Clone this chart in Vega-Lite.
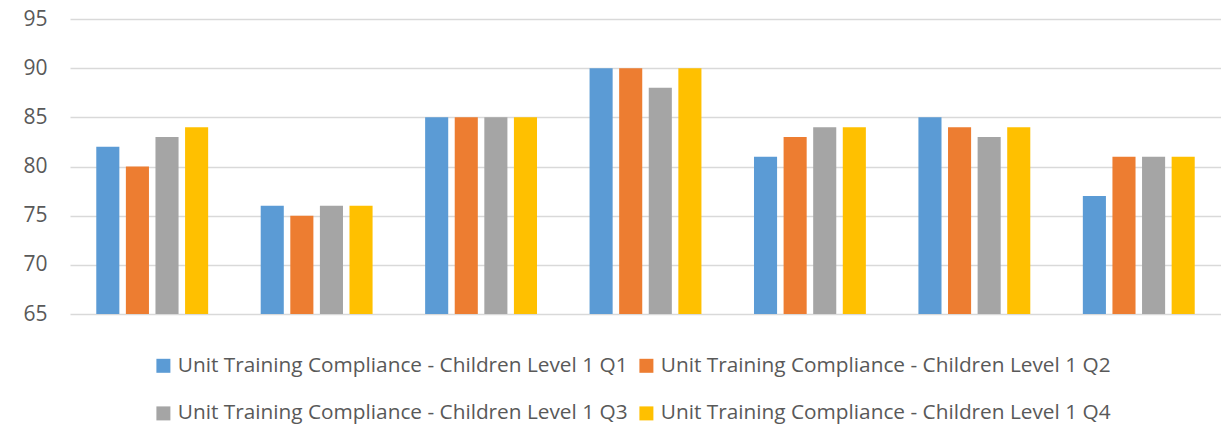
{
  "$schema": "https://vega.github.io/schema/vega-lite/v6.json",
  "width": 1151,
  "height": 295,
  "autosize": {"type": "none"},
  "padding": {"left": 70, "top": 19, "right": 0, "bottom": 127},
  "background": "white",
  "config": {"view": {"stroke": null}, "font": "Open Sans"},
  "data": {"values": [
    {"g": "1", "s": "Unit Training Compliance - Children Level 1 Q1", "v": 82},
    {"g": "1", "s": "Unit Training Compliance - Children Level 1 Q2", "v": 80},
    {"g": "1", "s": "Unit Training Compliance - Children Level 1 Q3", "v": 83},
    {"g": "1", "s": "Unit Training Compliance - Children Level 1 Q4", "v": 84},
    {"g": "2", "s": "Unit Training Compliance - Children Level 1 Q1", "v": 76},
    {"g": "2", "s": "Unit Training Compliance - Children Level 1 Q2", "v": 75},
    {"g": "2", "s": "Unit Training Compliance - Children Level 1 Q3", "v": 76},
    {"g": "2", "s": "Unit Training Compliance - Children Level 1 Q4", "v": 76},
    {"g": "3", "s": "Unit Training Compliance - Children Level 1 Q1", "v": 85},
    {"g": "3", "s": "Unit Training Compliance - Children Level 1 Q2", "v": 85},
    {"g": "3", "s": "Unit Training Compliance - Children Level 1 Q3", "v": 85},
    {"g": "3", "s": "Unit Training Compliance - Children Level 1 Q4", "v": 85},
    {"g": "4", "s": "Unit Training Compliance - Children Level 1 Q1", "v": 90},
    {"g": "4", "s": "Unit Training Compliance - Children Level 1 Q2", "v": 90},
    {"g": "4", "s": "Unit Training Compliance - Children Level 1 Q3", "v": 88},
    {"g": "4", "s": "Unit Training Compliance - Children Level 1 Q4", "v": 90},
    {"g": "5", "s": "Unit Training Compliance - Children Level 1 Q1", "v": 81},
    {"g": "5", "s": "Unit Training Compliance - Children Level 1 Q2", "v": 83},
    {"g": "5", "s": "Unit Training Compliance - Children Level 1 Q3", "v": 84},
    {"g": "5", "s": "Unit Training Compliance - Children Level 1 Q4", "v": 84},
    {"g": "6", "s": "Unit Training Compliance - Children Level 1 Q1", "v": 85},
    {"g": "6", "s": "Unit Training Compliance - Children Level 1 Q2", "v": 84},
    {"g": "6", "s": "Unit Training Compliance - Children Level 1 Q3", "v": 83},
    {"g": "6", "s": "Unit Training Compliance - Children Level 1 Q4", "v": 84},
    {"g": "7", "s": "Unit Training Compliance - Children Level 1 Q1", "v": 77},
    {"g": "7", "s": "Unit Training Compliance - Children Level 1 Q2", "v": 81},
    {"g": "7", "s": "Unit Training Compliance - Children Level 1 Q3", "v": 81},
    {"g": "7", "s": "Unit Training Compliance - Children Level 1 Q4", "v": 81}
  ]},
  "mark": {"type": "bar", "clip": true},
  "encoding": {
    "x": {"field": "g", "type": "nominal", "title": null,
      "scale": {"paddingInner": 0.28, "paddingOuter": 0.14},
      "axis": {"labels": false, "ticks": false, "domain": false, "grid": false}},
    "xOffset": {"field": "s", "type": "nominal",
      "scale": {"paddingInner": 0.22, "paddingOuter": 0.11}},
    "y": {"field": "v", "type": "quantitative", "title": null,
      "scale": {"domain": [65, 95], "nice": false, "zero": false},
      "axis": {"values": [65, 70, 75, 80, 85, 90, 95], "domain": false, "ticks": false,
        "gridColor": "#d9d9d9", "gridWidth": 1.3, "labelColor": "#595959", "labelFontSize": 21,
        "labelPadding": 23}},
    "color": {"field": "s", "type": "nominal", "title": null,
      "scale": {"range": ["#5B9BD5", "#ED7D31", "#A5A5A5", "#FFC000"]},
      "legend": {"orient": "none", "legendX": 83, "legendY": 336, "direction": "horizontal", "columns": 2,
        "symbolType": "square", "symbolSize": 196, "symbolStrokeWidth": 0,
        "labelFontSize": 20.8, "labelColor": "#595959", "labelLimit": 700,
        "columnPadding": 8, "rowPadding": 26, "labelOffset": 4}}
  }
}
